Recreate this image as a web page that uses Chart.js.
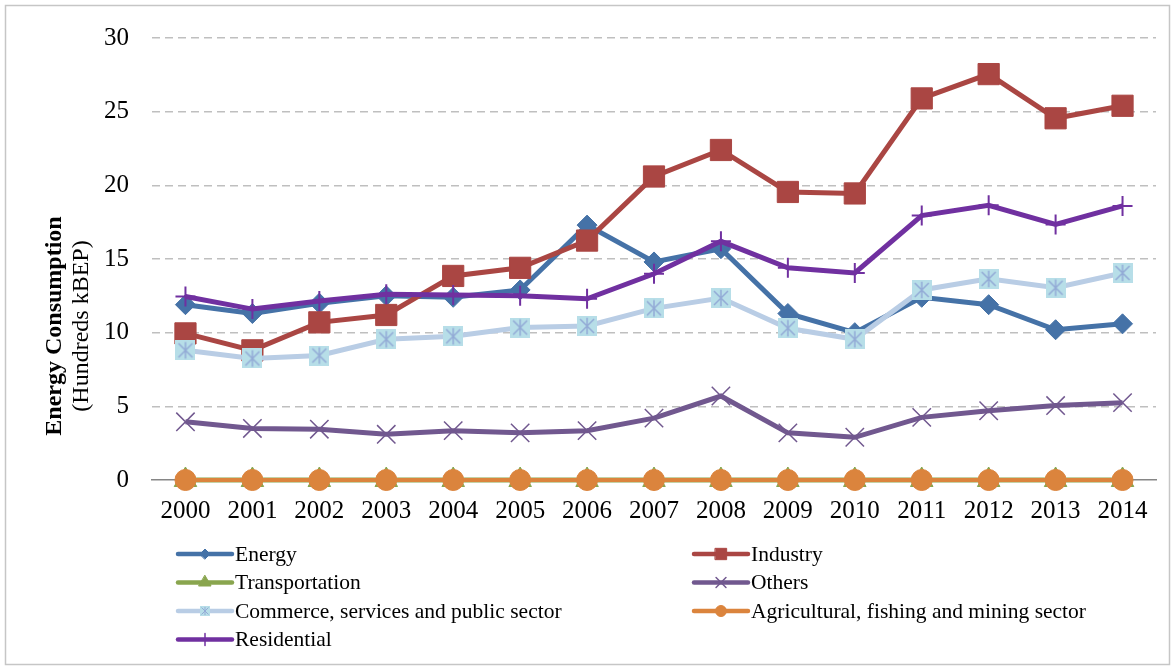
<!DOCTYPE html>
<html>
<head>
<meta charset="utf-8">
<title>Energy Consumption by Sector</title>
<script src="https://cdn.jsdelivr.net/npm/chart.js@4.4.0/dist/chart.umd.min.js"></script>
<style>
  html, body { margin: 0; padding: 0; background: #fff; }
  #wrap { width: 1175px; height: 670px; }
</style>
</head>
<body>
<div id="wrap"><canvas id="consumptionChart" width="1175" height="670"></canvas></div>
<script>
var years = ['2000', '2001', '2002', '2003', '2004', '2005', '2006', '2007', '2008', '2009', '2010', '2011', '2012', '2013', '2014'];

// hundreds of kBEP per sector
var energy = [11.9, 11.3, 12.0, 12.5, 12.4, 12.9, 17.3, 14.8, 15.7, 11.3, 10.0, 12.4, 11.9, 10.2, 10.6];
var industry = [9.95, 8.8, 10.7, 11.2, 13.85, 14.4, 16.25, 20.6, 22.4, 19.55, 19.45, 25.9, 27.55, 24.55, 25.4];
var transportation = [0, 0, 0, 0, 0, 0, 0, 0, 0, 0, 0, 0, 0, 0, 0];
var others = [3.95, 3.5, 3.45, 3.1, 3.35, 3.2, 3.35, 4.2, 5.7, 3.2, 2.9, 4.25, 4.7, 5.05, 5.25];
var commerce = [8.8, 8.25, 8.45, 9.55, 9.75, 10.35, 10.45, 11.65, 12.35, 10.3, 9.55, 12.9, 13.65, 13.05, 14.05];
var agricultural = [0, 0, 0, 0, 0, 0, 0, 0, 0, 0, 0, 0, 0, 0, 0];
var residential = [12.45, 11.6, 12.15, 12.6, 12.55, 12.5, 12.3, 14.0, 16.2, 14.4, 14.05, 17.95, 18.65, 17.35, 18.6];

var yTicks = [0, 5, 10, 15, 20, 25, 30];

var serif = '"Liberation Serif", "Times New Roman", serif';

// square marker with an asterisk, used for the commerce series
function starBox(size, fill, stroke, lw) {
    var c = document.createElement('canvas');
    c.width = size; c.height = size;
    var g = c.getContext('2d');
    g.fillStyle = fill;
    g.fillRect(0, 0, size, size);
    g.strokeStyle = stroke;
    g.lineWidth = lw;
    var m = size * 0.15, h = size / 2;
    g.beginPath();
    g.moveTo(m, m); g.lineTo(size - m, size - m);
    g.moveTo(size - m, m); g.lineTo(m, size - m);
    g.moveTo(h, m * 0.6); g.lineTo(h, size - m * 0.6);
    g.stroke();
    return c;
}
var commerceMarker = starBox(20, '#B7DEE8', '#93ABD6', 1.5);
var commerceLegendMarker = starBox(10, '#B7DEE8', '#93ABD6', 1);

// frame, rotated axis title and the two-column legend
var frameAndLegend = {
    id: 'frameAndLegend',
    beforeDraw: function (chart) {
        var ctx = chart.ctx;
        ctx.save();
        ctx.fillStyle = '#fff';
        ctx.fillRect(0, 0, chart.width, chart.height);
        ctx.strokeStyle = '#c6c6c6';
        ctx.lineWidth = 1.5;
        ctx.strokeRect(5.5, 5.5, chart.width - 11, chart.height - 11);
        ctx.restore();
    },
    afterDraw: function (chart) {
        var ctx = chart.ctx;
        ctx.save();
        ctx.fillStyle = '#000';
        ctx.textAlign = 'center';
        ctx.textBaseline = 'alphabetic';
        ctx.translate(61, 326);
        ctx.rotate(-Math.PI / 2);
        ctx.font = 'bold 24px ' + serif;
        ctx.fillText('Energy Consumption', 0, 0);
        ctx.font = '24px ' + serif;
        ctx.fillText('(Hundreds kBEP)', 0, 27);
        ctx.restore();

        ctx.save();
        ctx.font = '21.5px ' + serif;
        ctx.textBaseline = 'middle';
        chart.data.datasets.forEach(function (ds, i) {
            var x0 = (i % 2) ? 694 : 178;
            var y = 554 + Math.floor(i / 2) * 28.5;
            ctx.strokeStyle = ds.borderColor;
            ctx.lineWidth = 4.5;
            ctx.lineCap = 'round';
            ctx.beginPath();
            ctx.moveTo(x0, y);
            ctx.lineTo(x0 + 54, y);
            ctx.stroke();
            var mx = x0 + 27;
            if (ds.legendImage) {
                ctx.drawImage(ds.legendImage, mx - 5, y - 5, 10, 10);
            } else {
                ctx.fillStyle = ds.pointBackgroundColor;
                ctx.strokeStyle = ds.pointBorderColor;
                ctx.lineWidth = ds.legendLineWidth;
                Chart.helpers.drawPoint(ctx, {
                    pointStyle: ds.pointStyle,
                    radius: ds.legendRadius,
                    rotation: 0,
                    borderWidth: ds.legendLineWidth
                }, mx, y);
            }
            ctx.fillStyle = '#000';
            ctx.textAlign = 'left';
            ctx.fillText(ds.label, x0 + 57, y + 1);
        });
        ctx.restore();
    }
};

function series(label, data, color, opts) {
    var ds = {
        label: label,
        data: data,
        borderColor: color,
        backgroundColor: color,
        pointBackgroundColor: color,
        pointBorderColor: color,
        borderWidth: 5,
        tension: 0,
        clip: false,
        pointBorderWidth: 1
    };
    for (var k in opts) ds[k] = opts[k];
    return ds;
}

var ctx = document.getElementById('consumptionChart').getContext('2d');

var consumptionChart = new Chart(ctx, {
    type: 'line',
    data: {
        labels: years,
        datasets: [
            series('Energy', energy, '#4572A7', { pointStyle: 'rectRot', pointRadius: 10, order: 7, legendRadius: 5, legendLineWidth: 1 }),
            series('Industry', industry, '#AA4643', { pointStyle: 'rect', pointRadius: 15, order: 6, legendRadius: 8, legendLineWidth: 1 }),
            series('Transportation', transportation, '#89A54E', { pointStyle: 'triangle', pointRadius: 13, order: 5, legendRadius: 7, legendLineWidth: 1 }),
            series('Others', others, '#71588F', { pointStyle: 'crossRot', pointRadius: 13, pointBorderWidth: 1.5, order: 4, legendRadius: 7, legendLineWidth: 1.5 }),
            series('Commerce, services and public sector', commerce, '#B9CDE5', { pointStyle: commerceMarker, legendImage: commerceLegendMarker, order: 3 }),
            series('Agricultural, fishing and mining sector', agricultural, '#DB843D', { pointStyle: 'circle', pointRadius: 10.5, borderWidth: 4, order: 2, legendRadius: 5.5, legendLineWidth: 1 }),
            series('Residential', residential, '#7030A0', { pointStyle: 'cross', pointRadius: 10, pointBorderWidth: 2, order: 1, legendRadius: 6, legendLineWidth: 1.5 })
        ]
    },
    options: {
        responsive: false,
        animation: false,
        events: [],
        layout: { padding: { left: 0, top: 34, right: 19, bottom: 140 } },
        plugins: {
            legend: { display: false },
            tooltip: { enabled: false }
        },
        scales: {
            x: {
                offset: true,
                grid: { display: false },
                border: { display: true, color: '#868686', width: 1.5 },
                ticks: { color: '#000', font: { family: serif, size: 25 }, padding: 8, maxRotation: 0, autoSkip: false },
                afterFit: function (scale) { scale.height = 50; }
            },
            y: {
                min: yTicks[0],
                max: yTicks[yTicks.length - 1],
                afterBuildTicks: function (scale) {
                    scale.ticks = yTicks.map(function (v) { return { value: v }; });
                },
                grid: {
                    drawTicks: false,
                    lineWidth: 1.5,
                    color: function (c) { return c.tick && c.tick.value === 0 ? 'rgba(0,0,0,0)' : '#BFBFBF'; }
                },
                border: { display: false, dash: [8, 5] },
                ticks: { color: '#000', font: { family: serif, size: 25 }, padding: 23 },
                afterFit: function (scale) { scale.width = 152; }
            }
        }
    },
    plugins: [frameAndLegend]
});
</script>
</body>
</html>
